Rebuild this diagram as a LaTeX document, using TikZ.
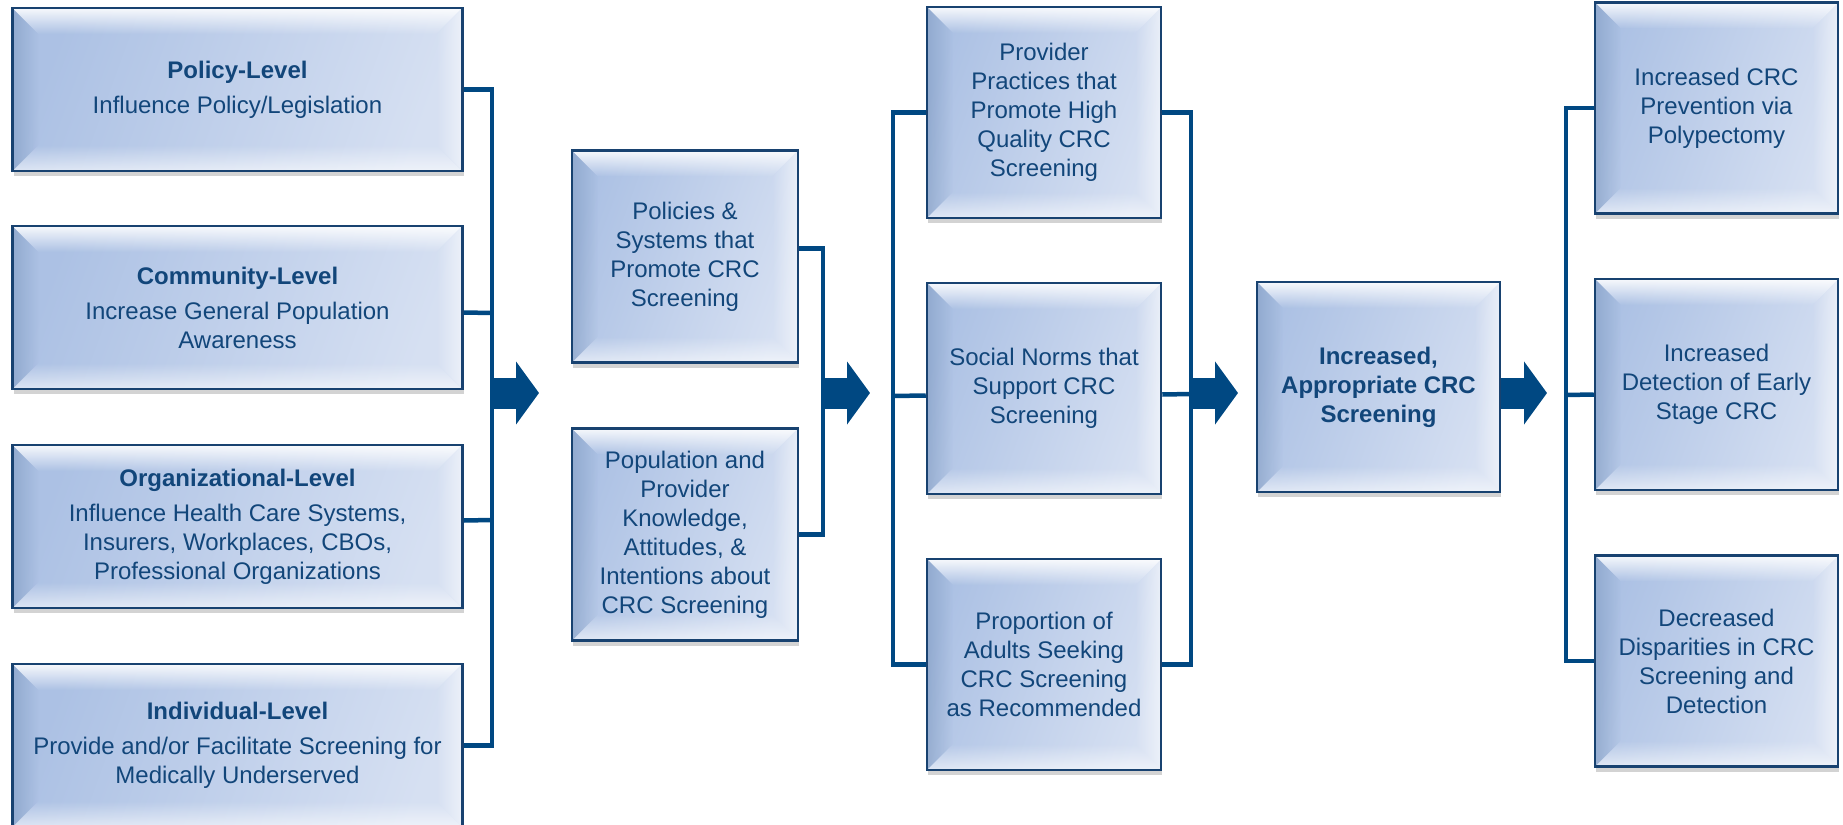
\documentclass[tikz,border=0pt]{standalone}
\usepackage{fontspec}
\setmainfont{Liberation Sans}
\usepackage{tikz}
\usetikzlibrary{shadows, fadings, arrows.meta, positioning}

\definecolor{lineblue}{RGB}{0,72,130}
\definecolor{edgeblue}{RGB}{24,66,112}
\definecolor{textblue}{RGB}{18,70,122}
\definecolor{shadeleft}{RGB}{172,193,228}
\definecolor{shaderight}{RGB}{214,224,242}

\tikzset{
  bevelbox/.style={draw=edgeblue, line width=2.5pt, text=textblue, align=center,
    inner sep=0pt, font=\fontsize{24}{29}\selectfont,
    left color=shadeleft, right color=shaderight, shading angle=70,
    drop shadow={shadow xshift=1pt, shadow yshift=-5pt, opacity=.35},
    path picture={
      \coordinate (bnw) at (path picture bounding box.north west);
      \coordinate (bne) at (path picture bounding box.north east);
      \coordinate (bse) at (path picture bounding box.south east);
      \coordinate (bsw) at (path picture bounding box.south west);
      % top, right, bottom and left bevels
      \fill[white, opacity=.9, path fading=south] (bnw) -- (bne) -- ([shift={(-26pt,-26pt)}]bne) -- ([shift={(26pt,-26pt)}]bnw) -- cycle;
      \fill[white, opacity=.55, path fading=west] (bne) -- (bse) -- ([shift={(-26pt,26pt)}]bse) -- ([shift={(-26pt,-26pt)}]bne) -- cycle;
      \fill[white, opacity=.6, path fading=north] (bsw) -- (bse) -- ([shift={(-26pt,26pt)}]bse) -- ([shift={(26pt,26pt)}]bsw) -- cycle;
      \fill[edgeblue, opacity=.18, path fading=east] (bnw) -- (bsw) -- ([shift={(26pt,26pt)}]bsw) -- ([shift={(26pt,-26pt)}]bnw) -- cycle;
    }},
  lvlbox/.style={bevelbox, minimum width=450pt, minimum height=163pt},
  prebox/.style={bevelbox, minimum width=226pt, minimum height=212pt},
  midbox/.style={bevelbox, minimum width=234pt, minimum height=211pt},
  resbox/.style={bevelbox, minimum width=243pt, minimum height=211pt},
  link/.style={draw=lineblue, line width=4.5pt},
  fat/.style={draw=lineblue, line width=31pt, -{Triangle[length=23pt, width=62pt]}}
}

\begin{document}
\begin{tikzpicture}[on grid, x=1pt, y=-1pt]
        \useasboundingbox (0,0) rectangle (1843,824);

        % levels of action
        \node[lvlbox] (lvl_1) at (237.5,89.5) {\textbf{Policy-Level}\\[6pt]Influence Policy/Legislation};
        \node[lvlbox] (lvl_2) [below=218pt of lvl_1] {\textbf{Community-Level}\\[6pt]Increase General Population\\Awareness};
        \node[lvlbox] (lvl_3) [below=219pt of lvl_2] {\textbf{Organizational-Level}\\[6pt]Influence Health Care Systems,\\Insurers, Workplaces, CBOs,\\Professional Organizations};
        \node[lvlbox] (lvl_4) [below=219pt of lvl_3] {\textbf{Individual-Level}\\[6pt]Provide and/or Facilitate Screening for\\Medically Underserved};

        \node[prebox] (pre_1) at (685,256.5) {Policies \&\\Systems that\\Promote CRC\\Screening};
        \node[prebox] (pre_2) [below=278pt of pre_1] {Population and\\Provider\\Knowledge,\\Attitudes, \&\\Intentions about\\CRC Screening};

        \node[midbox] (mid_1) at (1044,112.5) {Provider\\Practices that\\Promote High\\Quality CRC\\Screening};
        \node[midbox] (mid_2) [below=276pt of mid_1] {Social Norms that\\Support CRC\\Screening};
        \node[midbox] (mid_3) [below=276pt of mid_2] {Proportion of\\Adults Seeking\\CRC Screening\\as Recommended};

        \node[resbox, minimum height=210pt] (out) at (1378.5,387) {\textbf{Increased,}\\\textbf{Appropriate CRC}\\\textbf{Screening}};

        \node[resbox] (res_1) at (1716.5,108) {Increased CRC\\Prevention via\\Polypectomy};
        \node[resbox] (res_2) [below=276.5pt of res_1] {Increased\\Detection of Early\\Stage CRC};
        \node[resbox] (res_3) [below=276.5pt of res_2] {Decreased\\Disparities in CRC\\Screening and\\Detection};

        % bracket lines
        \coordinate (k_1) at (492,0);
        \coordinate (k_2) at (823,0);
        \coordinate (k_3) at (893,0);
        \coordinate (k_4) at (1191,0);
        \coordinate (k_5) at (1566,0);
        \coordinate (mid) at (0,393);

        \draw[link] (lvl_1.east) -| (k_1 |- lvl_4.east) -- (lvl_4.east);
        \path[link]
          ([yshift=-5pt]lvl_2.east) edge (k_1 |- 0,313)
          ([yshift=6pt]lvl_3.east)  edge (k_1 |- 0,520);
        \draw[link] ([yshift=8pt]pre_1.east) -| (k_2 |- pre_2.east) -- (pre_2.east);

        \draw[link] (mid_1.west) -| (k_3 |- mid_3.west) -- (mid_3.west);
        \draw[link] ([yshift=-7pt]mid_2.west) -- (k_3 |- 0,396);
        \draw[link] (mid_1.east) -| (k_4 |- mid_3.east) -- (mid_3.east);
        \draw[link] ([yshift=-6pt]mid_2.east) -- (k_4 |- 0,394);

        \draw[link] (res_1.west) -| (k_5 |- res_3.west) -- (res_3.west);
        \draw[link] ([yshift=-10pt]res_2.west) -- (k_5 |- 0,395);

        % big arrows
        \coordinate (t_1) at (539,393);
        \coordinate (t_2) at (870,393);
        \coordinate (t_3) at (1238,393);
        \coordinate (t_4) at (1547,393);
        \draw[fat] (k_1 |- mid) -- (t_1);
        \draw[fat] (k_2 |- mid) -- (t_2);
        \draw[fat] (k_4 |- mid) -- (t_3);
        \draw[fat] (out.east |- mid) -- (t_4);
      \end{tikzpicture}
\end{document}
